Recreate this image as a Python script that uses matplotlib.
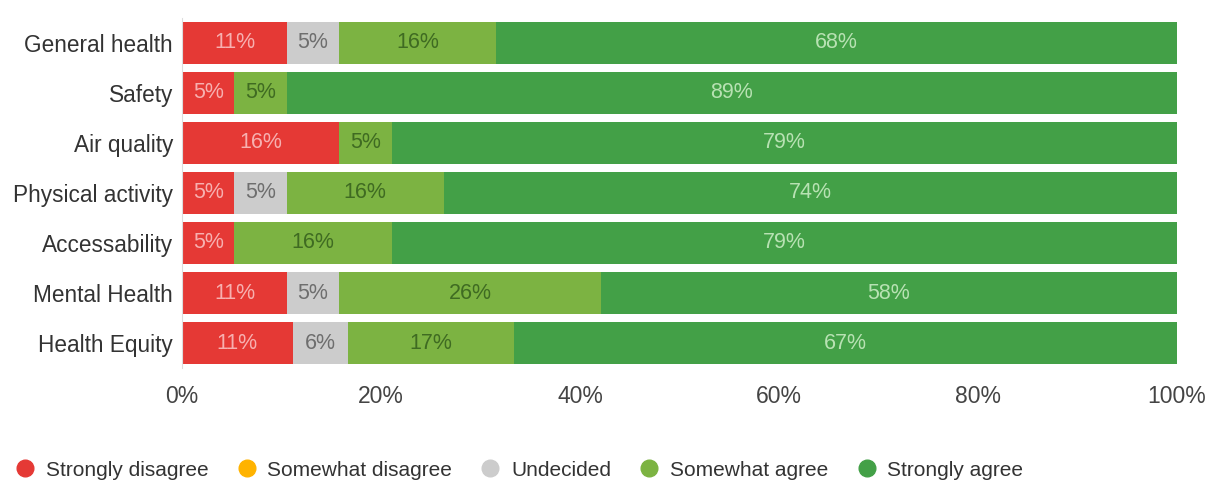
import matplotlib
matplotlib.use("Agg")
import matplotlib.pyplot as plt
from matplotlib.lines import Line2D

categories = ["General health", "Safety", "Air quality", "Physical activity",
              "Accessability", "Mental Health", "Health Equity"]
series_names = ["Strongly disagree", "Somewhat disagree", "Undecided",
                "Somewhat agree", "Strongly agree"]
strongly_disagree = [10.53, 5.26, 15.79, 5.26, 5.26, 10.53, 11.11]
somewhat_disagree = [0, 0, 0, 0, 0, 0, 0]
undecided = [5.26, 0, 0, 5.26, 0, 5.26, 5.56]
somewhat_agree = [15.79, 5.26, 5.26, 15.79, 15.79, 26.32, 16.67]
strongly_agree = [68.42, 89.47, 78.95, 73.68, 78.95, 57.89, 66.67]
x_ticks = [0, 20, 40, 60, 80, 100]

bar_colors = ["#e53935", "#ffb300", "#cccccc", "#7cb342", "#43a047"]
text_colors = ["#f7b0b0", "#8a5a00", "#6e6e6e", "#3f6b22", "#b8e2b3"]

plt.rcParams['font.family'] = ['Liberation Sans', 'DejaVu Sans']

fig = plt.figure(figsize=(12.14, 4.82), dpi=100)
ax = fig.add_axes([0.15, 0.2365, 0.8195, 0.7262])

series = [strongly_disagree, somewhat_disagree, undecided, somewhat_agree, strongly_agree]
y = list(range(len(categories)))
left = [0.0] * len(categories)
for values, color, tcolor in zip(series, bar_colors, text_colors):
    ax.barh(y, values, left=left, height=0.84, color=color, edgecolor="none")
    for i, v in enumerate(values):
        if v > 0:
            ax.text(left[i] + v / 2, i, "%d%%" % int(v + 0.5), ha="center", va="center",
                    color=tcolor, fontsize=15.5)
    left = [l + v for l, v in zip(left, values)]

ax.set_ylim(len(categories) - 0.5, -0.5)
ax.set_xlim(0, 100)
ax.set_yticks(y)
ax.set_yticklabels(categories, fontsize=16.3, color="#333333")
ax.set_xticks(x_ticks)
ax.set_xticklabels(["%d%%" % t for t in x_ticks], fontsize=16.5, color="#444444")
ax.tick_params(axis="both", length=0)
ax.tick_params(axis="y", pad=6.5)
ax.tick_params(axis="x", pad=12)
for side in ["top", "right", "bottom"]:
    ax.spines[side].set_visible(False)
ax.spines["left"].set_color("#dddddd")

handles = [Line2D([0], [0], marker="o", linestyle="none", markersize=12,
                  markerfacecolor=c, markeredgecolor=c) for c in bar_colors]
leg = fig.legend(handles, series_names, loc="center left", bbox_to_anchor=(0.012, 1 - 470 / 482),
                 ncol=5, frameon=False, fontsize=15, handlelength=1.0, handletextpad=0.5,
                 columnspacing=1.33, borderpad=0, borderaxespad=0)
for t in leg.get_texts():
    t.set_color("#333333")

fig.savefig("out.png", dpi=100)
